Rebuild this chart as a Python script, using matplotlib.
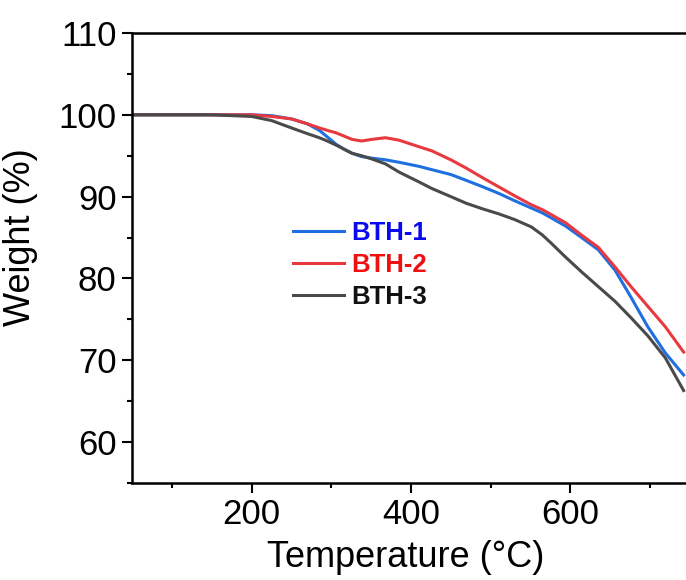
"""
plot.py
TGA curves (weight loss vs temperature) for BTH-1, BTH-2 and BTH-3.
"""
import matplotlib
matplotlib.use("Agg")
import matplotlib.pyplot as plt
from matplotlib.ticker import MultipleLocator

plt.rcParams["font.family"] = ["Liberation Sans", "DejaVu Sans"]

# Data
temperature = [50, 100, 150, 200, 225, 250, 270, 285, 295, 306, 316, 326, 338,
               351, 368, 385, 410, 426, 450, 469, 490, 510, 530, 551, 565,
               576, 594, 614, 635, 656, 676, 697, 719, 742]
bth1 = [100.0, 100.0, 100.0, 100.0, 99.9, 99.5, 98.9, 98.1, 97.3, 96.4, 95.8,
        95.3, 94.9, 94.7, 94.5, 94.2, 93.7, 93.3, 92.7, 92.0, 91.2, 90.4,
        89.5, 88.6, 88.0, 87.4, 86.4, 85.0, 83.5, 81.0, 77.7, 74.1, 70.9, 68.2]
bth2 = [100.0, 100.0, 100.0, 100.0, 99.8, 99.5, 98.9, 98.4, 98.1, 97.8, 97.4,
        97.0, 96.8, 97.0, 97.2, 96.9, 96.1, 95.6, 94.5, 93.5, 92.3, 91.2,
        90.1, 89.0, 88.4, 87.8, 86.8, 85.3, 83.8, 81.4, 79.0, 76.6, 74.1, 71.0]
bth3 = [100.0, 100.0, 100.0, 99.8, 99.3, 98.4, 97.7, 97.2, 96.8, 96.3, 95.8,
        95.3, 95.0, 94.6, 94.0, 93.0, 91.8, 91.0, 90.0, 89.2, 88.5, 87.9,
        87.2, 86.3, 85.3, 84.3, 82.6, 80.8, 79.0, 77.2, 75.2, 73.0, 70.3, 66.3]

series_names = ["BTH-1", "BTH-2", "BTH-3"]
line_colors = ["#1F6FE0", "#E8393F", "#4A4A4A"]
text_colors = ["#0A0AF0", "#F01010", "#111111"]

W, H, DPI = 686, 580, 100
fig = plt.figure(figsize=(W / DPI, H / DPI), dpi=DPI)
# axes box in pixels: left 132, right 690, top 33, bottom 483
ax = fig.add_axes([132 / W, (H - 483) / H, (690 - 132) / W, (483 - 33) / H])

for vals, name, c in zip([bth1, bth2, bth3], series_names, line_colors):
    ax.plot(temperature, vals, color=c, linewidth=2.2, label=name)

ax.set_xlim(50, 750)
ax.set_ylim(55, 110)
ax.xaxis.set_minor_locator(MultipleLocator(100))
ax.yaxis.set_minor_locator(MultipleLocator(5))
ax.set_xticks([200, 400, 600])
ax.set_yticks([60, 70, 80, 90, 100, 110])

for spine in ax.spines.values():
    spine.set_linewidth(1.8)
ax.tick_params(which="major", direction="out", length=7, width=1.5,
               labelsize=25, pad=4)
ax.tick_params(which="minor", direction="out", length=3.5, width=1.5)

ax.set_xlabel("Temperature (°C)", fontsize=26)
ax.xaxis.set_label_coords(0.49, -0.127)
ax.set_ylabel("Weight (%)", fontsize=26)
ax.yaxis.set_label_coords(-0.168, 0.547)

leg = ax.legend(loc="upper left", bbox_to_anchor=(0.247, 0.633), frameon=False,
                handlelength=2.0, handletextpad=0.27, labelspacing=0.3,
                prop={"weight": "bold", "size": 18.5})
for txt, c in zip(leg.get_texts(), text_colors):
    txt.set_color(c)

fig.savefig("out.png", dpi=DPI)
